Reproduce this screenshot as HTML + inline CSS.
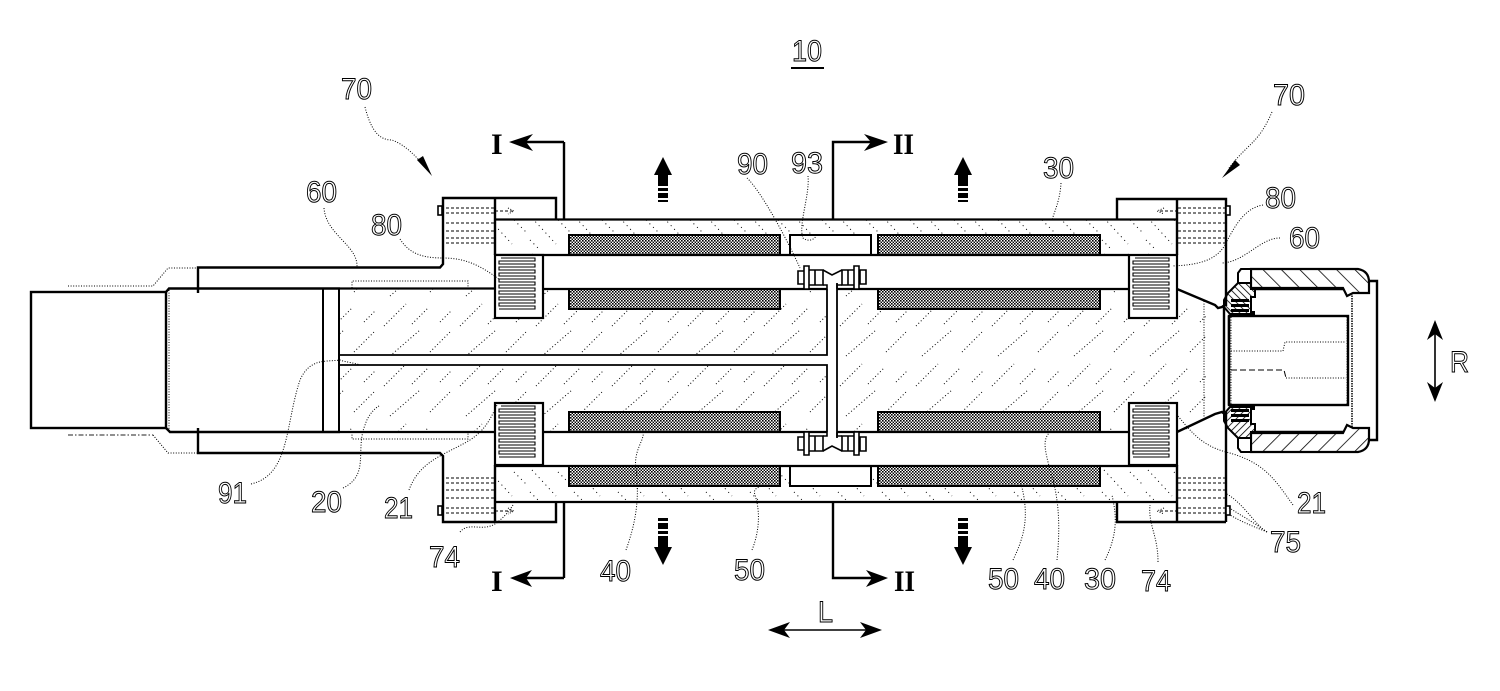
<!DOCTYPE html>
<html><head><meta charset="utf-8"><style>
html,body{margin:0;padding:0;background:#fff}
svg{display:block}
text{font-family:"Liberation Sans",sans-serif;font-size:30px;fill:#fff;stroke:#000;stroke-width:1px}
text.r{font-family:"Liberation Serif",serif;font-weight:bold;fill:#000;stroke:none;font-size:30px}
.k{fill:none;stroke:#000;stroke-width:2.4}
.m{fill:none;stroke:#000;stroke-width:1.6}
.d{fill:none;stroke:#000;stroke-width:1;stroke-dasharray:1 1.6}
.l{fill:none;stroke:#000;stroke-width:1;stroke-dasharray:3 2}
.f{fill:none;stroke:#222;stroke-width:1;stroke-dasharray:5 2 1.5 2}
</style></head><body>
<svg width="1500" height="691" viewBox="0 0 1500 691" xmlns="http://www.w3.org/2000/svg">
<defs>
<pattern id="coil" width="3" height="3" patternUnits="userSpaceOnUse"><rect width="3" height="3" fill="#fff"/><rect width="1.6" height="1.6" fill="#000"/><rect x="1.6" y="1.6" width="1.4" height="1.4" fill="#000"/></pattern>
<pattern id="body" width="76" height="60" patternUnits="userSpaceOnUse">
<path d="M4 26L26 4M32 24L48 8M60 22L72 10M10 56L40 30M50 52L70 32" fill="none" stroke="#000" stroke-width="1" stroke-dasharray="1 2.4"/></pattern>
<pattern id="house" width="44" height="36" patternUnits="userSpaceOnUse">
<path d="M4 2L28 28M30 4L42 16M2 24L12 34" fill="none" stroke="#000" stroke-width="1" stroke-dasharray="1 4"/></pattern>
<pattern id="cap" width="13" height="13" patternUnits="userSpaceOnUse" patternTransform="rotate(-45)"><path d="M0 0V13" stroke="#000" stroke-width="1.6"/></pattern>
<pattern id="dense" width="5" height="5" patternUnits="userSpaceOnUse" patternTransform="rotate(-45)"><path d="M0 0V5" stroke="#000" stroke-width="1.6"/></pattern>
<path id="spr" fill="none" stroke="#000" stroke-width="1.1" d="M3 0h34v3h-36v3h36v3h-36v3h36v3h-36v3h36v3h-36v3h36v3h-36v3h36v3h-36v3h36v3h-36v3h36v3h-36v3h36v3h-36"/>
<g id="coupling">
<path d="M798 271h6v13h-6zM804 266h5v23h-5zM809 270h14v15h-14zM860 270h6v14h-6zM854 266h5v23h-5zM842 270h12v15h-12z" fill="#fff" stroke="#000" stroke-width="1.6"/>
<path d="M823 270L832 275L842 270M823 285h4v4M842 285h-5v4" fill="none" stroke="#000" stroke-width="1.6"/>
<path d="M815 270v15M848 270v15" fill="none" stroke="#000" stroke-width="1.6"/>
</g>
<g id="flangeLines">
<path d="M446 208H495M446 213H495M446 223H495M446 231H495M446 238H495M446 243H495" class="l"/>
</g>
<g id="capPart">
<path d="M1251 269H1358Q1369 271 1369 282V293H1353L1347 296L1343 288H1251Z" fill="url(#cap)" stroke="#000" stroke-width="2.200"/>
<path d="M1251 269H1241L1238 273V283H1251V269Z" fill="#fff" stroke="#000" stroke-width="2"/>
<path d="M1238 283L1228 293L1224 300V307L1230 314H1254V312H1251V297H1255V289H1251V283Z" fill="url(#dense)" stroke="#000" stroke-width="2"/>
<path d="M1231 299h18v3h-18zM1231 304h18v3h-18zM1231 309h18v3h-18z" fill="#000"/>
<path class="k" d="M1255 289H1343"/>
</g>
</defs>
<rect width="1500" height="691" fill="#fff"/>

<!-- hatched masses -->
<rect x="340" y="289" width="866" height="143" fill="url(#body)"/>
<path d="M1207 300L1177 288H1207ZM1207 421L1177 433H1207Z" fill="#fff"/>
<rect x="495" y="219" width="682" height="36" fill="url(#house)"/>
<rect x="495" y="466" width="682" height="36" fill="url(#house)"/>

<!-- chambers and channels -->
<rect x="340" y="355" width="487" height="10" fill="#fff"/>
<rect x="827" y="289" width="10" height="143" fill="#fff"/>

<!-- coils -->
<g fill="url(#coil)" stroke="#000" stroke-width="2">
<rect x="569" y="235" width="211" height="20"/><rect x="878" y="235" width="222" height="20"/>
<rect x="569" y="289" width="211" height="20"/><rect x="878" y="289" width="222" height="20"/>
<rect x="569" y="412" width="211" height="20"/><rect x="878" y="412" width="222" height="20"/>
<rect x="569" y="466" width="211" height="20"/><rect x="878" y="466" width="222" height="20"/>
</g>
<g fill="#fff" stroke="#000" stroke-width="2">
<rect x="790" y="235" width="81" height="20"/><rect x="790" y="466" width="81" height="20"/>
</g>

<!-- main housing -->
<path class="k" d="M495 219.500H1177M495 255H1129M495 466H1177M495 502H1177" style="stroke-width:2.200"/>
<path class="k" d="M340 288.500H495M340 432H495M543 289H827M837 289H1129M543 432H827M837 432H1129" style="stroke-width:2.200"/>
<path class="k" d="M340 355H827V289M340 365H827V432M837 283V438" style="stroke-width:1.800"/>

<!-- left box and body -->
<rect x="31" y="292" width="135" height="136" fill="#fff" class="k"/>
<path class="k" d="M166 292L169 288.500H340M166 428L170 432H340"/>
<path class="d" d="M169 290V430"/>
<path class="m" d="M323 288.500V432M339 288.500V432" style="stroke-width:2"/>
<path class="k" d="M198 293V267.500H440L443 264V198H495M198 428V453H440L443 456V522H495"/>
<path class="d" d="M68 286H153L168 268H198M153 435L168 453H198"/>
<path class="f" d="M68 435H153"/>
<path class="d" d="M352 288V281H468V288M352 432V439H468V432"/>

<!-- left flange -->
<path class="k" d="M495 198H556V219.500M495 198V255M495 465V522M495 522H556V502"/>
<path class="k" d="M564 142V220M564 502V578"/>
<use href="#flangeLines"/>
<use href="#flangeLines" transform="translate(0,721) scale(1,-1)"/>
<path class="l" d="M495 211H512M495 511H512"/>
<path class="d" d="M508 208L514 211L508 214M508 508L514 511L508 514"/>
<rect x="438" y="206" width="4" height="9" fill="#fff" stroke="#000" stroke-width="1.600"/>
<rect x="438" y="506" width="4" height="9" fill="#fff" stroke="#000" stroke-width="1.600"/>

<!-- right flange -->
<path class="k" d="M1177 199H1117V219M1177 199V255M1177 465V522M1117 502V522H1226M1177 199H1226V306M1226 412V522"/>
<use href="#flangeLines" transform="translate(1672,0) scale(-1,1)"/>
<use href="#flangeLines" transform="translate(1672,721) scale(-1,-1)"/>
<path class="l" d="M1160 211H1177M1160 511H1177"/>
<path class="d" d="M1164 208L1157 211L1164 214M1164 508L1157 511L1164 514"/>
<rect x="1226" y="206" width="4" height="9" fill="#fff" stroke="#000" stroke-width="1.600"/>
<rect x="1226" y="506" width="4" height="9" fill="#fff" stroke="#000" stroke-width="1.600"/>

<!-- springs -->
<g stroke="#000" stroke-width="2.200" fill="#fff">
<rect x="495" y="255" width="48" height="63"/><rect x="495" y="403" width="48" height="62"/>
<rect x="1129" y="255" width="48" height="63"/><rect x="1129" y="403" width="48" height="62"/>
</g>
<use href="#spr" x="498" y="258"/><use href="#spr" x="498" y="406"/>
<use href="#spr" x="1132" y="258"/><use href="#spr" x="1132" y="406"/>

<!-- couplings -->
<use href="#coupling"/>
<use href="#coupling" transform="translate(0,721) scale(1,-1)"/>

<!-- right cone -->
<path class="k" d="M1177 289L1215 305L1218 308L1222 307L1226 304M1177 432L1215 414L1222 412L1226 415"/>
<path class="d" d="M1204 301V420"/>
<path class="k" d="M1224 305V412M1229 316V405"/>

<!-- right cap -->
<use href="#capPart"/>
<use href="#capPart" transform="translate(0,721) scale(1,-1)"/>
<path class="k" d="M1369 281H1377V440H1369"/>
<rect x="1229" y="316" width="119" height="89" class="k" fill="#fff"/>
<path class="d" d="M1231 351H1283L1285 342H1346M1286 378H1346"/>
<path d="M1231 370H1284L1286 378" fill="none" stroke="#000" stroke-width="1" stroke-dasharray="6 3"/>
<path class="d" d="M1231 317V404M1347 317V404"/>
<path d="M1352 293V427" fill="none" stroke="#000" stroke-width="1.500" stroke-dasharray="1.500 1"/>

<!-- section markers -->
<path class="k" d="M564 142H522M833 219V142H875M833 502V578H875M564 578H522"/>
<path d="M509 142L533 134L526 142L533 151ZM888 142L864 134L871 142L864 151ZM510 578L532 570L526 578L532 587ZM888 578L866 570L872 578L866 587Z" fill="#000"/>
<text class="r" x="491" y="154">I</text>
<text class="r" x="893" y="154" textLength="21" lengthAdjust="spacingAndGlyphs">II</text>
<text class="r" x="491" y="591">I</text>
<text class="r" x="894" y="591" textLength="21" lengthAdjust="spacingAndGlyphs">II</text>

<!-- heavy direction arrows -->
<g fill="#000">
<path d="M654 175L663 157L672 175H668V186H658V175ZM954 175L963 157L972 175H968V186H958V175Z"/>
<path d="M658 188h10v3h-10zM658 193h10v5h-10zM658 200h10v2h-10zM958 188h10v3h-10zM958 193h10v5h-10zM958 200h10v2h-10z"/>
<path d="M654 547L663 565L672 547H668V536H658V547ZM954 547L963 565L972 547H968V536H958V547Z"/>
<path d="M658 518h10v3h-10zM658 523h10v6h-10zM658 531h10v3h-10zM958 518h10v3h-10zM958 523h10v6h-10zM958 531h10v3h-10z"/>
</g>

<!-- L and R arrows -->
<path class="m" d="M778 630H872M1435 330V392"/>
<path d="M768 630L790 622L784 630L790 638ZM882 630L860 622L866 630L860 638ZM1435 320L1427 340L1435 334L1443 340ZM1435 402L1427 382L1435 388L1443 382Z" fill="#000"/>

<!-- 70 arrows -->
<path class="d" d="M365 107C372 135 382 140 392 140C405 145 415 155 425 167"/>
<path d="M432 176L417 160L423 156Z" fill="#000"/>
<path class="d" d="M1272 112C1262 135 1255 140 1243 152C1237 158 1233 163 1229 168"/>
<path d="M1222 178L1235 160L1240 165Z" fill="#000"/>

<!-- leaders -->
<g class="d">
<path d="M324 208C326 235 358 245 357 267"/>
<path d="M400 239C410 255 425 258 443 258C465 258 480 265 500 280"/>
<path d="M747 178C760 190 785 235 800 268"/>
<path d="M808 176C810 195 798 225 803 238C808 242 814 240 816 236"/>
<path d="M1061 183C1060 200 1055 210 1052 220"/>
<path d="M1263 205C1245 208 1235 225 1225 245C1215 262 1195 265 1172 266"/>
<path d="M1280 238C1260 238 1245 262 1222 263"/>
<path d="M1293 505C1275 480 1265 462 1226 452C1200 445 1190 430 1177 415"/>
<path d="M251 484C290 475 285 425 300 380C310 358 325 362 340 360C345 362 355 363 360 365"/>
<path d="M343 488C370 475 355 450 365 425C368 415 375 408 379 406"/>
<path d="M409 490C420 460 445 455 470 440C485 430 490 420 497 405"/>
<path d="M460 532C470 520 485 535 500 520C506 515 510 510 513 505"/>
<path d="M626 550C635 525 640 500 636 470C633 450 645 440 643 432"/>
<path d="M752 550C760 530 760 510 755 495C752 487 762 487 762 485"/>
<path d="M1013 560C1025 535 1030 515 1020 480"/>
<path d="M1057 560C1060 530 1060 500 1050 470C1045 450 1042 440 1050 432"/>
<path d="M1105 560C1120 530 1115 510 1112 495"/>
<path d="M1158 562C1158 535 1148 525 1150 505"/>
<path d="M1267 532C1255 525 1245 505 1227 494"/>
<path d="M1267 532C1250 520 1240 515 1228 507"/>
<path d="M1267 532C1250 525 1242 522 1230 515"/>
</g>

<!-- labels -->
<text x="792" y="61" textLength="30" lengthAdjust="spacingAndGlyphs">10</text>
<rect x="791" y="67" width="33" height="2" fill="#000"/>
<text x="341" y="99" textLength="31" lengthAdjust="spacingAndGlyphs">70</text>
<text x="1273" y="105" textLength="32" lengthAdjust="spacingAndGlyphs">70</text>
<text x="306" y="202" textLength="31" lengthAdjust="spacingAndGlyphs">60</text>
<text x="371" y="235" textLength="31" lengthAdjust="spacingAndGlyphs">80</text>
<text x="737" y="174" textLength="31" lengthAdjust="spacingAndGlyphs">90</text>
<text x="791" y="173" textLength="32" lengthAdjust="spacingAndGlyphs">93</text>
<text x="1043" y="178" textLength="31" lengthAdjust="spacingAndGlyphs">30</text>
<text x="1265" y="208" textLength="31" lengthAdjust="spacingAndGlyphs">80</text>
<text x="1289" y="248" textLength="31" lengthAdjust="spacingAndGlyphs">60</text>
<text x="1450" y="372" textLength="19" lengthAdjust="spacingAndGlyphs">R</text>
<text x="218" y="503" textLength="29" lengthAdjust="spacingAndGlyphs">91</text>
<text x="311" y="512" textLength="31" lengthAdjust="spacingAndGlyphs">20</text>
<text x="384" y="518" textLength="29" lengthAdjust="spacingAndGlyphs">21</text>
<text x="429" y="567" textLength="31" lengthAdjust="spacingAndGlyphs">74</text>
<text x="600" y="581" textLength="31" lengthAdjust="spacingAndGlyphs">40</text>
<text x="734" y="580" textLength="31" lengthAdjust="spacingAndGlyphs">50</text>
<text x="988" y="589" textLength="31" lengthAdjust="spacingAndGlyphs">50</text>
<text x="1034" y="589" textLength="31" lengthAdjust="spacingAndGlyphs">40</text>
<text x="1084" y="589" textLength="32" lengthAdjust="spacingAndGlyphs">30</text>
<text x="1141" y="591" textLength="30" lengthAdjust="spacingAndGlyphs">74</text>
<text x="1297" y="513" textLength="29" lengthAdjust="spacingAndGlyphs">21</text>
<text x="1270" y="552" textLength="31" lengthAdjust="spacingAndGlyphs">75</text>
<text x="818" y="622" textLength="15" lengthAdjust="spacingAndGlyphs">L</text>
</svg>
</body></html>
